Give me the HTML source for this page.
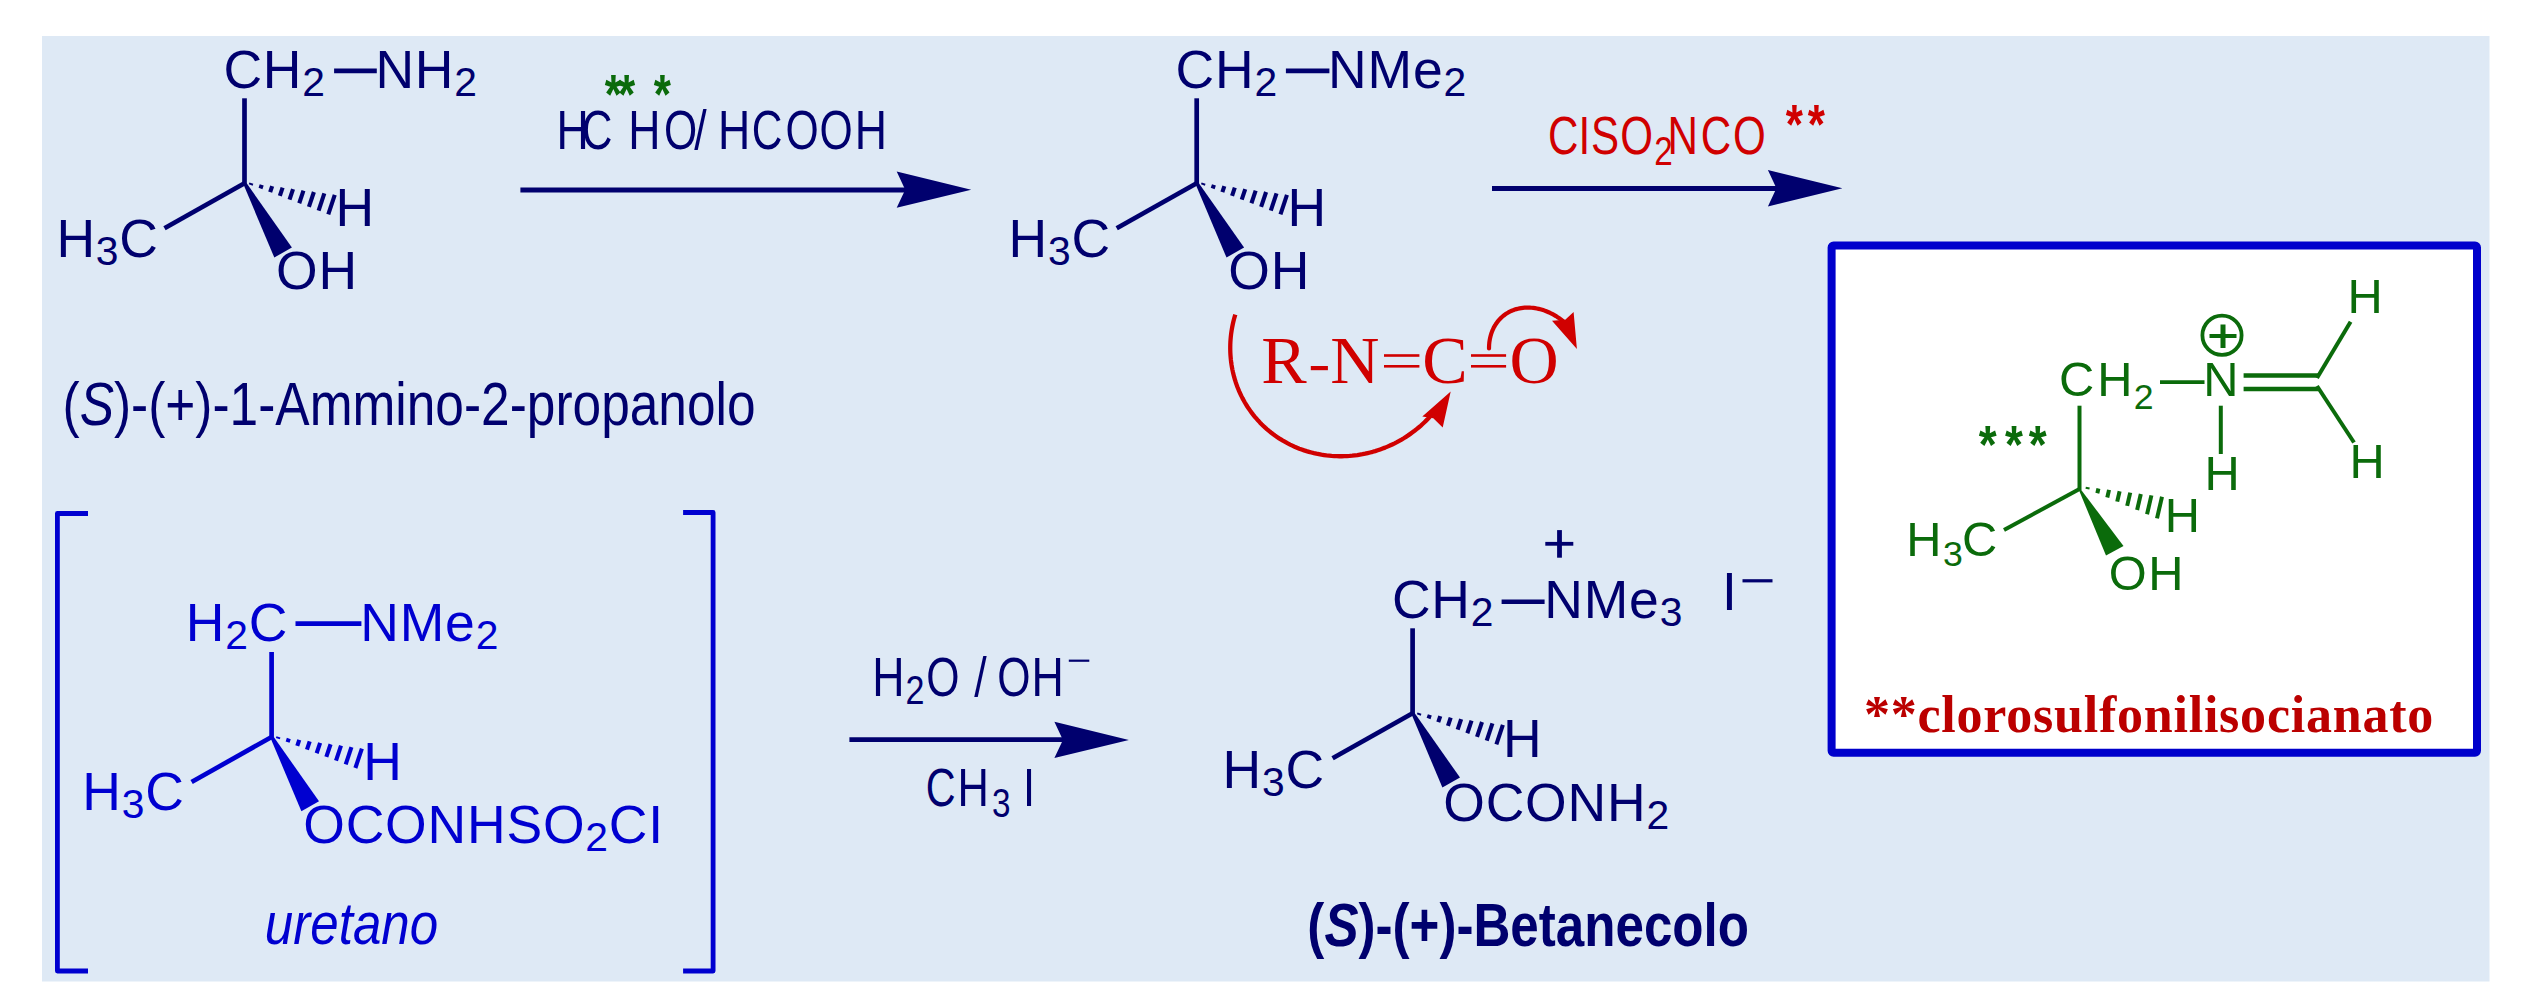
<!DOCTYPE html>
<html><head><meta charset="utf-8"><title>Betanecolo</title>
<style>
html,body{margin:0;padding:0;background:#ffffff;}
body{width:2528px;height:1000px;overflow:hidden;}
svg{display:block;}
</style></head>
<body>
<svg width="2528" height="1000" viewBox="0 0 2528 1000">
<rect x="42" y="36" width="2447.5" height="945.5" fill="#dee9f5"/>
<line x1="244.50" y1="184.30" x2="244.50" y2="98.30" stroke="#00006e" stroke-width="4.70" stroke-linecap="butt"/>
<line x1="244.50" y1="183.30" x2="164.50" y2="228.30" stroke="#00006e" stroke-width="4.70" stroke-linecap="butt"/>
<polygon points="243.00,183.30 246.70,183.30 291.90,247.60 274.30,257.50" fill="#00006e"/>
<line x1="251.36" y1="183.12" x2="250.73" y2="185.02" stroke="#00006e" stroke-width="4.10" stroke-linecap="butt"/>
<line x1="261.72" y1="184.78" x2="260.49" y2="188.49" stroke="#00006e" stroke-width="4.10" stroke-linecap="butt"/>
<line x1="272.16" y1="186.22" x2="270.17" y2="192.18" stroke="#00006e" stroke-width="4.10" stroke-linecap="butt"/>
<line x1="282.59" y1="187.66" x2="279.86" y2="195.87" stroke="#00006e" stroke-width="4.10" stroke-linecap="butt"/>
<line x1="293.03" y1="189.10" x2="289.54" y2="199.56" stroke="#00006e" stroke-width="4.10" stroke-linecap="butt"/>
<line x1="303.46" y1="190.54" x2="299.23" y2="203.25" stroke="#00006e" stroke-width="4.10" stroke-linecap="butt"/>
<line x1="313.90" y1="191.99" x2="308.91" y2="206.94" stroke="#00006e" stroke-width="4.10" stroke-linecap="butt"/>
<line x1="324.33" y1="193.43" x2="318.60" y2="210.63" stroke="#00006e" stroke-width="4.10" stroke-linecap="butt"/>
<line x1="334.76" y1="194.87" x2="328.28" y2="214.32" stroke="#00006e" stroke-width="4.10" stroke-linecap="butt"/>
<text transform="translate(223.38 88.10)" fill="#00006e" style="font-family:'Liberation Sans', sans-serif;font-size:53.50px;font-weight:normal;font-style:normal;letter-spacing:0.80px"><tspan>CH</tspan><tspan font-size="40.80" dy="8.00">2</tspan></text>
<line x1="334.10" y1="70.90" x2="376.80" y2="70.90" stroke="#00006e" stroke-width="4.70" stroke-linecap="butt"/>
<text transform="translate(375.41 88.10)" fill="#00006e" style="font-family:'Liberation Sans', sans-serif;font-size:53.50px;font-weight:normal;font-style:normal;letter-spacing:0.80px"><tspan>NH</tspan><tspan font-size="40.80" dy="8.00">2</tspan></text>
<text transform="translate(56.41 257.00)" fill="#00006e" style="font-family:'Liberation Sans', sans-serif;font-size:53.50px;font-weight:normal;font-style:normal;letter-spacing:0.80px"><tspan>H</tspan><tspan font-size="40.80" dy="8.00">3</tspan><tspan font-size="53.50" dy="-8.00">C</tspan></text>
<text transform="translate(335.41 225.60)" fill="#00006e" style="font-family:'Liberation Sans', sans-serif;font-size:53.50px;font-weight:normal;font-style:normal;letter-spacing:0.80px"><tspan>H</tspan></text>
<text transform="translate(276.07 289.40)" fill="#00006e" style="font-family:'Liberation Sans', sans-serif;font-size:53.50px;font-weight:normal;font-style:normal;letter-spacing:0.80px"><tspan>OH</tspan></text>
<text transform="translate(62.51 424.80) scale(0.8390 1)" fill="#00006e" style="font-family:'Liberation Sans', sans-serif;font-size:61.30px;font-weight:normal;font-style:normal"><tspan>(</tspan><tspan font-style="italic">S</tspan><tspan>)-(+)-1-Ammino-2-propanolo</tspan></text>
<line x1="520.40" y1="190.00" x2="906.00" y2="190.00" stroke="#00006e" stroke-width="5.20" stroke-linecap="butt"/>
<polygon points="896.70,171.50 971.20,189.70 896.70,207.80 905.20,189.70" fill="#00006e"/>
<text transform="translate(556.44 149.00) scale(0.8100 1)" fill="#00006e" style="font-family:'Liberation Sans', sans-serif;font-size:55.10px;font-weight:normal;font-style:normal"><tspan>H</tspan></text>
<text transform="translate(581.85 149.00) scale(0.7700 1)" fill="#00006e" style="font-family:'Liberation Sans', sans-serif;font-size:55.10px;font-weight:normal;font-style:normal"><tspan>C</tspan></text>
<text transform="translate(628.34 149.00) scale(0.8100 1)" fill="#00006e" style="font-family:'Liberation Sans', sans-serif;font-size:55.10px;font-weight:normal;font-style:normal"><tspan>H</tspan></text>
<text transform="translate(663.98 149.00) scale(0.7750 1)" fill="#00006e" style="font-family:'Liberation Sans', sans-serif;font-size:55.10px;font-weight:normal;font-style:normal"><tspan>O</tspan></text>
<text transform="translate(694.20 149.00) scale(0.8100 1)" fill="#00006e" style="font-family:'Liberation Sans', sans-serif;font-size:55.10px;font-weight:normal;font-style:normal"><tspan>/</tspan></text>
<text transform="translate(718.04 149.00) scale(0.8100 1)" fill="#00006e" style="font-family:'Liberation Sans', sans-serif;font-size:55.10px;font-weight:normal;font-style:normal"><tspan>H</tspan></text>
<text transform="translate(751.85 149.00) scale(0.7700 1)" fill="#00006e" style="font-family:'Liberation Sans', sans-serif;font-size:55.10px;font-weight:normal;font-style:normal"><tspan>C</tspan></text>
<text transform="translate(785.58 149.00) scale(0.7750 1)" fill="#00006e" style="font-family:'Liberation Sans', sans-serif;font-size:55.10px;font-weight:normal;font-style:normal"><tspan>O</tspan></text>
<text transform="translate(819.38 149.00) scale(0.7750 1)" fill="#00006e" style="font-family:'Liberation Sans', sans-serif;font-size:55.10px;font-weight:normal;font-style:normal"><tspan>O</tspan></text>
<text transform="translate(854.74 149.00) scale(0.8100 1)" fill="#00006e" style="font-family:'Liberation Sans', sans-serif;font-size:55.10px;font-weight:normal;font-style:normal"><tspan>H</tspan></text>
<text transform="translate(604.87 112.70) scale(0.8050 1)" fill="#0b6b0b" style="font-family:'Liberation Sans', sans-serif;font-size:54.80px;font-weight:bold;font-style:normal"><tspan>*</tspan></text>
<text transform="translate(618.07 112.70) scale(0.8050 1)" fill="#0b6b0b" style="font-family:'Liberation Sans', sans-serif;font-size:54.80px;font-weight:bold;font-style:normal"><tspan>*</tspan></text>
<text transform="translate(653.87 112.70) scale(0.8050 1)" fill="#0b6b0b" style="font-family:'Liberation Sans', sans-serif;font-size:54.80px;font-weight:bold;font-style:normal"><tspan>*</tspan></text>
<line x1="1196.70" y1="184.30" x2="1196.70" y2="98.30" stroke="#00006e" stroke-width="4.70" stroke-linecap="butt"/>
<line x1="1196.70" y1="183.30" x2="1116.70" y2="228.30" stroke="#00006e" stroke-width="4.70" stroke-linecap="butt"/>
<polygon points="1195.20,183.30 1198.90,183.30 1244.10,247.60 1226.50,257.50" fill="#00006e"/>
<line x1="1203.56" y1="183.12" x2="1202.93" y2="185.02" stroke="#00006e" stroke-width="4.10" stroke-linecap="butt"/>
<line x1="1213.92" y1="184.78" x2="1212.69" y2="188.49" stroke="#00006e" stroke-width="4.10" stroke-linecap="butt"/>
<line x1="1224.36" y1="186.22" x2="1222.37" y2="192.18" stroke="#00006e" stroke-width="4.10" stroke-linecap="butt"/>
<line x1="1234.79" y1="187.66" x2="1232.06" y2="195.87" stroke="#00006e" stroke-width="4.10" stroke-linecap="butt"/>
<line x1="1245.23" y1="189.10" x2="1241.74" y2="199.56" stroke="#00006e" stroke-width="4.10" stroke-linecap="butt"/>
<line x1="1255.66" y1="190.54" x2="1251.43" y2="203.25" stroke="#00006e" stroke-width="4.10" stroke-linecap="butt"/>
<line x1="1266.10" y1="191.99" x2="1261.11" y2="206.94" stroke="#00006e" stroke-width="4.10" stroke-linecap="butt"/>
<line x1="1276.53" y1="193.43" x2="1270.80" y2="210.63" stroke="#00006e" stroke-width="4.10" stroke-linecap="butt"/>
<line x1="1286.96" y1="194.87" x2="1280.48" y2="214.32" stroke="#00006e" stroke-width="4.10" stroke-linecap="butt"/>
<text transform="translate(1175.58 88.10)" fill="#00006e" style="font-family:'Liberation Sans', sans-serif;font-size:53.50px;font-weight:normal;font-style:normal;letter-spacing:0.80px"><tspan>CH</tspan><tspan font-size="40.80" dy="8.00">2</tspan></text>
<line x1="1285.90" y1="70.90" x2="1329.40" y2="70.90" stroke="#00006e" stroke-width="4.70" stroke-linecap="butt"/>
<text transform="translate(1328.11 88.10)" fill="#00006e" style="font-family:'Liberation Sans', sans-serif;font-size:53.50px;font-weight:normal;font-style:normal;letter-spacing:0.80px"><tspan>NMe</tspan><tspan font-size="40.80" dy="8.00">2</tspan></text>
<text transform="translate(1008.61 257.00)" fill="#00006e" style="font-family:'Liberation Sans', sans-serif;font-size:53.50px;font-weight:normal;font-style:normal;letter-spacing:0.80px"><tspan>H</tspan><tspan font-size="40.80" dy="8.00">3</tspan><tspan font-size="53.50" dy="-8.00">C</tspan></text>
<text transform="translate(1287.61 225.60)" fill="#00006e" style="font-family:'Liberation Sans', sans-serif;font-size:53.50px;font-weight:normal;font-style:normal;letter-spacing:0.80px"><tspan>H</tspan></text>
<text transform="translate(1228.27 289.40)" fill="#00006e" style="font-family:'Liberation Sans', sans-serif;font-size:53.50px;font-weight:normal;font-style:normal;letter-spacing:0.80px"><tspan>OH</tspan></text>
<line x1="1492.00" y1="188.50" x2="1777.00" y2="188.50" stroke="#00006e" stroke-width="4.90" stroke-linecap="butt"/>
<polygon points="1767.90,170.10 1842.40,188.30 1767.90,206.40 1776.40,188.30" fill="#00006e"/>
<text transform="translate(1548.06 153.90) scale(0.7900 1)" fill="#d00000" style="font-family:'Liberation Sans', sans-serif;font-size:53.30px;font-weight:normal;font-style:normal"><tspan>C</tspan></text>
<text transform="translate(1578.51 153.90) scale(0.7900 1)" fill="#d00000" style="font-family:'Liberation Sans', sans-serif;font-size:53.30px;font-weight:normal;font-style:normal"><tspan>I</tspan></text>
<text transform="translate(1591.09 153.90) scale(0.7900 1)" fill="#d00000" style="font-family:'Liberation Sans', sans-serif;font-size:53.30px;font-weight:normal;font-style:normal"><tspan>S</tspan></text>
<text transform="translate(1620.21 153.90) scale(0.7900 1)" fill="#d00000" style="font-family:'Liberation Sans', sans-serif;font-size:53.30px;font-weight:normal;font-style:normal"><tspan>O</tspan></text>
<text transform="translate(1667.45 153.90) scale(0.7900 1)" fill="#d00000" style="font-family:'Liberation Sans', sans-serif;font-size:53.30px;font-weight:normal;font-style:normal"><tspan>N</tspan></text>
<text transform="translate(1700.76 153.90) scale(0.7900 1)" fill="#d00000" style="font-family:'Liberation Sans', sans-serif;font-size:53.30px;font-weight:normal;font-style:normal"><tspan>C</tspan></text>
<text transform="translate(1733.01 153.90) scale(0.7900 1)" fill="#d00000" style="font-family:'Liberation Sans', sans-serif;font-size:53.30px;font-weight:normal;font-style:normal"><tspan>O</tspan></text>
<text transform="translate(1654.13 164.70) scale(0.8300 1)" fill="#d00000" style="font-family:'Liberation Sans', sans-serif;font-size:40.10px;font-weight:normal;font-style:normal"><tspan>2</tspan></text>
<text transform="translate(1785.67 142.70) scale(0.8050 1)" fill="#d00000" style="font-family:'Liberation Sans', sans-serif;font-size:54.80px;font-weight:bold;font-style:normal"><tspan>*</tspan></text>
<text transform="translate(1807.87 142.70) scale(0.8050 1)" fill="#d00000" style="font-family:'Liberation Sans', sans-serif;font-size:54.80px;font-weight:bold;font-style:normal"><tspan>*</tspan></text>
<text transform="translate(1261.14 383.40)" fill="#d00000" style="font-family:'Liberation Serif', serif;font-size:68.10px;font-weight:normal;font-style:normal"><tspan>R</tspan></text>
<text transform="translate(1330.14 383.40)" fill="#d00000" style="font-family:'Liberation Serif', serif;font-size:68.10px;font-weight:normal;font-style:normal"><tspan>N</tspan></text>
<text transform="translate(1422.31 383.40)" fill="#d00000" style="font-family:'Liberation Serif', serif;font-size:68.10px;font-weight:normal;font-style:normal"><tspan>C</tspan></text>
<text transform="translate(1509.61 383.40)" fill="#d00000" style="font-family:'Liberation Serif', serif;font-size:68.10px;font-weight:normal;font-style:normal"><tspan>O</tspan></text>
<rect x="1310.8" y="366" width="17.1" height="4.2" fill="#d00000"/>
<rect x="1384.0" y="354.2" width="35.4" height="2.6" fill="#d00000"/>
<rect x="1384.0" y="365.0" width="35.4" height="2.6" fill="#d00000"/>
<rect x="1471.0" y="354.2" width="35.1" height="2.6" fill="#d00000"/>
<rect x="1471.0" y="365.0" width="35.1" height="2.6" fill="#d00000"/>
<rect x="1831.6" y="245.6" width="645.4" height="507.2" rx="2" fill="#ffffff" stroke="#0000cc" stroke-width="8"/>
<path d="M1235.30,314.57 L1234.57,317.04 L1233.90,319.52 L1233.28,322.01 L1232.72,324.51 L1232.22,327.02 L1231.77,329.54 L1231.38,332.06 L1231.05,334.59 L1230.77,337.12 L1230.55,339.66 L1230.39,342.20 L1230.29,344.73 L1230.25,347.27 L1230.26,349.81 L1230.33,352.34 L1230.46,354.86 L1230.65,357.39 L1230.89,359.90 L1231.19,362.40 L1231.55,364.90 L1231.97,367.38 L1232.44,369.85 L1232.97,372.31 L1233.56,374.75 L1234.20,377.18 L1234.90,379.59 L1235.65,381.98 L1236.46,384.35 L1237.32,386.70 L1238.24,389.03 L1239.21,391.34 L1240.24,393.62 L1241.31,395.88 L1242.44,398.11 L1243.63,400.31 L1244.86,402.48 L1246.14,404.62 L1247.47,406.74 L1248.86,408.82 L1250.29,410.86 L1251.77,412.88 L1253.29,414.86 L1254.86,416.80 L1256.48,418.70 L1258.14,420.57 L1259.85,422.40 L1261.60,424.19 L1263.39,425.93 L1265.22,427.64 L1267.09,429.30 L1269.00,430.92 L1270.95,432.50 L1272.94,434.03 L1274.96,435.51 L1277.02,436.95 L1279.12,438.35 L1281.25,439.69 L1283.40,440.99 L1285.60,442.23 L1287.82,443.43 L1290.07,444.58 L1292.34,445.67 L1294.65,446.72 L1296.98,447.71 L1299.33,448.65 L1301.71,449.53 L1304.11,450.37 L1306.53,451.15 L1308.97,451.87 L1311.43,452.54 L1313.91,453.16 L1316.40,453.72 L1318.90,454.22 L1321.42,454.67 L1323.96,455.06 L1326.50,455.40 L1329.05,455.68 L1331.61,455.91 L1334.18,456.07 L1336.76,456.18 L1339.33,456.24 L1341.92,456.24 L1344.50,456.18 L1347.08,456.06 L1349.67,455.89 L1352.25,455.66 L1354.83,455.37 L1357.40,455.03 L1359.97,454.63 L1362.53,454.18 L1365.09,453.67 L1367.63,453.10 L1370.16,452.48 L1372.68,451.81 L1375.19,451.08 L1377.68,450.29 L1380.16,449.45 L1382.62,448.56 L1385.06,447.62 L1387.48,446.62 L1389.88,445.57 L1392.25,444.47 L1394.61,443.32 L1396.94,442.12 L1399.24,440.87 L1401.52,439.57 L1403.77,438.22 L1405.99,436.82 L1408.19,435.38 L1410.35,433.89 L1412.47,432.36 L1414.57,430.78 L1416.63,429.15 L1418.65,427.48 L1420.64,425.78 L1422.59,424.02 L1424.50,422.23 L1426.37,420.40 L1428.21,418.53 L1430.00,416.62" fill="none" stroke="#d00000" stroke-width="4.3" stroke-linecap="butt" stroke-linejoin="round"/>
<polygon points="1450.70,391.50 1422.30,416.60 1433.30,418.30 1442.70,427.60" fill="#d00000"/>
<path d="M1489.01,348.50 L1489.04,346.69 L1489.12,344.89 L1489.28,343.11 L1489.49,341.35 L1489.77,339.61 L1490.11,337.90 L1490.51,336.22 L1490.98,334.57 L1491.50,332.95 L1492.09,331.36 L1492.73,329.81 L1493.44,328.30 L1494.20,326.83 L1495.02,325.41 L1495.89,324.02 L1496.82,322.69 L1497.81,321.39 L1498.84,320.15 L1499.93,318.96 L1501.06,317.82 L1502.25,316.74 L1503.48,315.71 L1504.75,314.74 L1506.07,313.82 L1507.43,312.97 L1508.83,312.17 L1510.27,311.43 L1511.74,310.76 L1513.25,310.15 L1514.79,309.60 L1516.36,309.12 L1517.97,308.70 L1519.59,308.35 L1521.24,308.06 L1522.92,307.84 L1524.61,307.69 L1526.32,307.60 L1528.05,307.58 L1529.79,307.62 L1531.54,307.74 L1533.30,307.92 L1535.07,308.16 L1536.84,308.47 L1538.62,308.85 L1540.39,309.30 L1542.17,309.80 L1543.93,310.37 L1545.69,311.01 L1547.45,311.71 L1549.19,312.47 L1550.91,313.29 L1552.63,314.16 L1554.32,315.10 L1555.99,316.10 L1557.64,317.15 L1559.27,318.25 L1560.87,319.41 L1562.44,320.62 L1563.99,321.88 L1565.49,323.19" fill="none" stroke="#d00000" stroke-width="4.2" stroke-linecap="round" stroke-linejoin="round"/>
<polygon points="1576.90,348.90 1552.00,320.70 1565.20,319.80 1573.60,312.00" fill="#d00000"/>
<line x1="2079.50" y1="405.70" x2="2079.50" y2="490.00" stroke="#0b6b0b" stroke-width="4.00" stroke-linecap="butt"/>
<line x1="2079.50" y1="489.00" x2="2004.00" y2="530.00" stroke="#0b6b0b" stroke-width="4.00" stroke-linecap="butt"/>
<polygon points="2078.50,489.00 2080.50,489.00 2123.50,546.00 2106.00,555.50" fill="#0b6b0b"/>
<line x1="2087.84" y1="487.14" x2="2087.39" y2="489.10" stroke="#0b6b0b" stroke-width="4.00" stroke-linecap="butt"/>
<line x1="2098.43" y1="488.51" x2="2097.33" y2="493.28" stroke="#0b6b0b" stroke-width="4.00" stroke-linecap="butt"/>
<line x1="2109.03" y1="489.88" x2="2107.28" y2="497.47" stroke="#0b6b0b" stroke-width="4.00" stroke-linecap="butt"/>
<line x1="2119.62" y1="491.24" x2="2117.22" y2="501.66" stroke="#0b6b0b" stroke-width="4.00" stroke-linecap="butt"/>
<line x1="2130.22" y1="492.60" x2="2127.16" y2="505.84" stroke="#0b6b0b" stroke-width="4.00" stroke-linecap="butt"/>
<line x1="2140.81" y1="493.97" x2="2137.11" y2="510.03" stroke="#0b6b0b" stroke-width="4.00" stroke-linecap="butt"/>
<line x1="2151.41" y1="495.33" x2="2147.05" y2="514.21" stroke="#0b6b0b" stroke-width="4.00" stroke-linecap="butt"/>
<line x1="2162.00" y1="496.70" x2="2157.00" y2="518.40" stroke="#0b6b0b" stroke-width="4.00" stroke-linecap="butt"/>
<text transform="translate(2059.02 396.20)" fill="#0b6b0b" style="font-family:'Liberation Sans', sans-serif;font-size:48.80px;font-weight:normal;font-style:normal"><tspan>C</tspan></text>
<text transform="translate(2097.30 396.20)" fill="#0b6b0b" style="font-family:'Liberation Sans', sans-serif;font-size:48.80px;font-weight:normal;font-style:normal"><tspan>H</tspan></text>
<text transform="translate(2203.30 396.20)" fill="#0b6b0b" style="font-family:'Liberation Sans', sans-serif;font-size:48.80px;font-weight:normal;font-style:normal"><tspan>N</tspan></text>
<text transform="translate(2204.50 490.30)" fill="#0b6b0b" style="font-family:'Liberation Sans', sans-serif;font-size:48.80px;font-weight:normal;font-style:normal"><tspan>H</tspan></text>
<text transform="translate(2347.50 313.30)" fill="#0b6b0b" style="font-family:'Liberation Sans', sans-serif;font-size:48.80px;font-weight:normal;font-style:normal"><tspan>H</tspan></text>
<text transform="translate(2349.40 477.70)" fill="#0b6b0b" style="font-family:'Liberation Sans', sans-serif;font-size:48.80px;font-weight:normal;font-style:normal"><tspan>H</tspan></text>
<text transform="translate(1906.30 556.00)" fill="#0b6b0b" style="font-family:'Liberation Sans', sans-serif;font-size:48.80px;font-weight:normal;font-style:normal"><tspan>H</tspan></text>
<text transform="translate(1962.02 556.00)" fill="#0b6b0b" style="font-family:'Liberation Sans', sans-serif;font-size:48.80px;font-weight:normal;font-style:normal"><tspan>C</tspan></text>
<text transform="translate(2164.70 531.90)" fill="#0b6b0b" style="font-family:'Liberation Sans', sans-serif;font-size:48.80px;font-weight:normal;font-style:normal"><tspan>H</tspan></text>
<text transform="translate(2108.69 590.00)" fill="#0b6b0b" style="font-family:'Liberation Sans', sans-serif;font-size:48.80px;font-weight:normal;font-style:normal"><tspan>O</tspan></text>
<text transform="translate(2148.20 589.60)" fill="#0b6b0b" style="font-family:'Liberation Sans', sans-serif;font-size:48.80px;font-weight:normal;font-style:normal"><tspan>H</tspan></text>
<text transform="translate(2133.70 409.00)" fill="#0b6b0b" style="font-family:'Liberation Sans', sans-serif;font-size:35.70px;font-weight:normal;font-style:normal"><tspan>2</tspan></text>
<text transform="translate(1943.04 566.10)" fill="#0b6b0b" style="font-family:'Liberation Sans', sans-serif;font-size:35.70px;font-weight:normal;font-style:normal"><tspan>3</tspan></text>
<line x1="2160.00" y1="382.20" x2="2204.50" y2="382.20" stroke="#0b6b0b" stroke-width="3.80" stroke-linecap="butt"/>
<circle cx="2222" cy="335.3" r="19.6" fill="none" stroke="#0b6b0b" stroke-width="3.8"/>
<rect x="2209.5" y="334" width="27" height="4" fill="#0b6b0b"/>
<rect x="2220.5" y="324.5" width="5" height="23.5" fill="#0b6b0b"/>
<line x1="2220.80" y1="405.70" x2="2220.80" y2="454.00" stroke="#0b6b0b" stroke-width="4.00" stroke-linecap="butt"/>
<line x1="2243.60" y1="375.50" x2="2318.40" y2="375.50" stroke="#0b6b0b" stroke-width="4.60" stroke-linecap="butt"/>
<line x1="2243.60" y1="389.00" x2="2318.40" y2="389.00" stroke="#0b6b0b" stroke-width="4.60" stroke-linecap="butt"/>
<line x1="2317.00" y1="378.00" x2="2350.60" y2="321.80" stroke="#0b6b0b" stroke-width="4.00" stroke-linecap="butt"/>
<line x1="2317.00" y1="386.00" x2="2354.00" y2="442.50" stroke="#0b6b0b" stroke-width="4.00" stroke-linecap="butt"/>
<text transform="translate(1978.67 462.50) scale(0.8600 1)" fill="#0b6b0b" style="font-family:'Liberation Sans', sans-serif;font-size:53.50px;font-weight:bold;font-style:normal"><tspan>*</tspan></text>
<text transform="translate(2005.07 462.50) scale(0.8600 1)" fill="#0b6b0b" style="font-family:'Liberation Sans', sans-serif;font-size:53.50px;font-weight:bold;font-style:normal"><tspan>*</tspan></text>
<text transform="translate(2028.87 462.50) scale(0.8600 1)" fill="#0b6b0b" style="font-family:'Liberation Sans', sans-serif;font-size:53.50px;font-weight:bold;font-style:normal"><tspan>*</tspan></text>
<text transform="translate(1863.94 731.70)" fill="#bb0000" style="font-family:'Liberation Serif', serif;font-size:52.00px;font-weight:bold;font-style:normal;letter-spacing:0.77px"><tspan>**clorosulfonilisocianato</tspan></text>
<polyline points="88.0,513.5 57.4,513.5 57.4,971.0 88.0,971.0" fill="none" stroke="#0000d0" stroke-width="4.8" stroke-linejoin="round"/>
<polyline points="683.1,512.5 713.1,512.5 713.1,971.0 683.1,971.0" fill="none" stroke="#0000d0" stroke-width="4.8" stroke-linejoin="round"/>
<line x1="271.60" y1="738.00" x2="271.60" y2="652.00" stroke="#0000d0" stroke-width="4.70" stroke-linecap="butt"/>
<line x1="271.60" y1="737.00" x2="191.60" y2="782.00" stroke="#0000d0" stroke-width="4.70" stroke-linecap="butt"/>
<polygon points="270.10,737.00 273.80,737.00 319.00,801.30 301.40,811.20" fill="#0000d0"/>
<line x1="278.46" y1="736.82" x2="277.83" y2="738.72" stroke="#0000d0" stroke-width="4.10" stroke-linecap="butt"/>
<line x1="288.82" y1="738.48" x2="287.59" y2="742.19" stroke="#0000d0" stroke-width="4.10" stroke-linecap="butt"/>
<line x1="299.26" y1="739.92" x2="297.27" y2="745.88" stroke="#0000d0" stroke-width="4.10" stroke-linecap="butt"/>
<line x1="309.69" y1="741.36" x2="306.96" y2="749.57" stroke="#0000d0" stroke-width="4.10" stroke-linecap="butt"/>
<line x1="320.13" y1="742.80" x2="316.64" y2="753.26" stroke="#0000d0" stroke-width="4.10" stroke-linecap="butt"/>
<line x1="330.56" y1="744.24" x2="326.33" y2="756.95" stroke="#0000d0" stroke-width="4.10" stroke-linecap="butt"/>
<line x1="341.00" y1="745.69" x2="336.01" y2="760.64" stroke="#0000d0" stroke-width="4.10" stroke-linecap="butt"/>
<line x1="351.43" y1="747.13" x2="345.70" y2="764.33" stroke="#0000d0" stroke-width="4.10" stroke-linecap="butt"/>
<line x1="361.86" y1="748.57" x2="355.38" y2="768.02" stroke="#0000d0" stroke-width="4.10" stroke-linecap="butt"/>
<text transform="translate(185.71 640.80)" fill="#0000d0" style="font-family:'Liberation Sans', sans-serif;font-size:53.50px;font-weight:normal;font-style:normal;letter-spacing:0.80px"><tspan>H</tspan><tspan font-size="40.80" dy="8.00">2</tspan><tspan font-size="53.50" dy="-8.00">C</tspan></text>
<line x1="295.50" y1="623.60" x2="361.40" y2="623.60" stroke="#0000d0" stroke-width="4.60" stroke-linecap="butt"/>
<text transform="translate(360.31 641.00)" fill="#0000d0" style="font-family:'Liberation Sans', sans-serif;font-size:53.50px;font-weight:normal;font-style:normal;letter-spacing:0.80px"><tspan>NMe</tspan><tspan font-size="40.80" dy="8.00">2</tspan></text>
<text transform="translate(82.31 809.90)" fill="#0000d0" style="font-family:'Liberation Sans', sans-serif;font-size:53.50px;font-weight:normal;font-style:normal;letter-spacing:0.80px"><tspan>H</tspan><tspan font-size="40.80" dy="8.00">3</tspan><tspan font-size="53.50" dy="-8.00">C</tspan></text>
<text transform="translate(363.31 780.20)" fill="#0000d0" style="font-family:'Liberation Sans', sans-serif;font-size:53.50px;font-weight:normal;font-style:normal;letter-spacing:0.80px"><tspan>H</tspan></text>
<text transform="translate(303.27 842.80)" fill="#0000d0" style="font-family:'Liberation Sans', sans-serif;font-size:53.50px;font-weight:normal;font-style:normal;letter-spacing:0.80px"><tspan>OCONHSO</tspan><tspan font-size="40.80" dy="8.00">2</tspan><tspan font-size="53.50" dy="-8.00">CI</tspan></text>
<text transform="translate(264.85 944.20) scale(0.8520 1)" fill="#0000d0" style="font-family:'Liberation Sans', sans-serif;font-size:60.00px;font-weight:normal;font-style:italic"><tspan>uretano</tspan></text>
<line x1="849.40" y1="739.60" x2="1066.00" y2="739.60" stroke="#00006e" stroke-width="4.90" stroke-linecap="butt"/>
<polygon points="1054.40,721.70 1128.90,739.90 1054.40,758.00 1062.90,739.90" fill="#00006e"/>
<text transform="translate(872.23 696.00) scale(0.8100 1)" fill="#00006e" style="font-family:'Liberation Sans', sans-serif;font-size:55.20px;font-weight:normal;font-style:normal"><tspan>H</tspan></text>
<text transform="translate(926.17 696.00) scale(0.7750 1)" fill="#00006e" style="font-family:'Liberation Sans', sans-serif;font-size:55.20px;font-weight:normal;font-style:normal"><tspan>O</tspan></text>
<text transform="translate(974.20 696.00) scale(0.8100 1)" fill="#00006e" style="font-family:'Liberation Sans', sans-serif;font-size:55.20px;font-weight:normal;font-style:normal"><tspan>/</tspan></text>
<text transform="translate(997.17 696.00) scale(0.7750 1)" fill="#00006e" style="font-family:'Liberation Sans', sans-serif;font-size:55.20px;font-weight:normal;font-style:normal"><tspan>O</tspan></text>
<text transform="translate(1031.53 696.00) scale(0.8100 1)" fill="#00006e" style="font-family:'Liberation Sans', sans-serif;font-size:55.20px;font-weight:normal;font-style:normal"><tspan>H</tspan></text>
<text transform="translate(905.58 703.70) scale(0.8300 1)" fill="#00006e" style="font-family:'Liberation Sans', sans-serif;font-size:41.10px;font-weight:normal;font-style:normal"><tspan>2</tspan></text>
<rect x="1068.8" y="659.6" width="20.5" height="2.2" fill="#00006e"/>
<text transform="translate(925.70 806.00) scale(0.7700 1)" fill="#00006e" style="font-family:'Liberation Sans', sans-serif;font-size:53.60px;font-weight:normal;font-style:normal"><tspan>C</tspan></text>
<text transform="translate(957.54 806.00) scale(0.8100 1)" fill="#00006e" style="font-family:'Liberation Sans', sans-serif;font-size:53.60px;font-weight:normal;font-style:normal"><tspan>H</tspan></text>
<text transform="translate(1023.09 806.00) scale(0.8100 1)" fill="#00006e" style="font-family:'Liberation Sans', sans-serif;font-size:53.60px;font-weight:normal;font-style:normal"><tspan>I</tspan></text>
<text transform="translate(991.93 816.50) scale(0.8100 1)" fill="#00006e" style="font-family:'Liberation Sans', sans-serif;font-size:41.10px;font-weight:normal;font-style:normal"><tspan>3</tspan></text>
<line x1="1412.60" y1="714.30" x2="1412.60" y2="628.30" stroke="#00006e" stroke-width="4.70" stroke-linecap="butt"/>
<line x1="1412.60" y1="713.30" x2="1332.60" y2="758.30" stroke="#00006e" stroke-width="4.70" stroke-linecap="butt"/>
<polygon points="1411.10,713.30 1414.80,713.30 1460.00,777.60 1442.40,787.50" fill="#00006e"/>
<line x1="1419.46" y1="713.12" x2="1418.83" y2="715.02" stroke="#00006e" stroke-width="4.10" stroke-linecap="butt"/>
<line x1="1429.82" y1="714.78" x2="1428.59" y2="718.49" stroke="#00006e" stroke-width="4.10" stroke-linecap="butt"/>
<line x1="1440.26" y1="716.22" x2="1438.27" y2="722.18" stroke="#00006e" stroke-width="4.10" stroke-linecap="butt"/>
<line x1="1450.69" y1="717.66" x2="1447.96" y2="725.87" stroke="#00006e" stroke-width="4.10" stroke-linecap="butt"/>
<line x1="1461.13" y1="719.10" x2="1457.64" y2="729.56" stroke="#00006e" stroke-width="4.10" stroke-linecap="butt"/>
<line x1="1471.56" y1="720.54" x2="1467.33" y2="733.25" stroke="#00006e" stroke-width="4.10" stroke-linecap="butt"/>
<line x1="1482.00" y1="721.99" x2="1477.01" y2="736.94" stroke="#00006e" stroke-width="4.10" stroke-linecap="butt"/>
<line x1="1492.43" y1="723.43" x2="1486.70" y2="740.63" stroke="#00006e" stroke-width="4.10" stroke-linecap="butt"/>
<line x1="1502.86" y1="724.87" x2="1496.38" y2="744.32" stroke="#00006e" stroke-width="4.10" stroke-linecap="butt"/>
<text transform="translate(1391.88 617.80)" fill="#00006e" style="font-family:'Liberation Sans', sans-serif;font-size:53.50px;font-weight:normal;font-style:normal;letter-spacing:0.80px"><tspan>CH</tspan><tspan font-size="40.80" dy="8.00">2</tspan></text>
<line x1="1501.60" y1="601.80" x2="1544.60" y2="601.80" stroke="#00006e" stroke-width="4.60" stroke-linecap="butt"/>
<text transform="translate(1544.31 617.80)" fill="#00006e" style="font-family:'Liberation Sans', sans-serif;font-size:53.50px;font-weight:normal;font-style:normal;letter-spacing:0.80px"><tspan>NMe</tspan><tspan font-size="40.80" dy="8.00">3</tspan></text>
<rect x="1557.1" y="530.1" width="4.8" height="27.6" fill="#00006e"/>
<rect x="1545.3" y="541.9" width="28" height="3.8" fill="#00006e"/>
<text transform="translate(1722.06 609.50)" fill="#00006e" style="font-family:'Liberation Sans', sans-serif;font-size:53.50px;font-weight:normal;font-style:normal;letter-spacing:0.80px"><tspan>I</tspan></text>
<rect x="1742.5" y="579.2" width="30" height="3.2" fill="#00006e"/>
<text transform="translate(1222.61 787.80)" fill="#00006e" style="font-family:'Liberation Sans', sans-serif;font-size:53.50px;font-weight:normal;font-style:normal;letter-spacing:0.80px"><tspan>H</tspan><tspan font-size="40.80" dy="8.00">3</tspan><tspan font-size="53.50" dy="-8.00">C</tspan></text>
<text transform="translate(1503.01 757.10)" fill="#00006e" style="font-family:'Liberation Sans', sans-serif;font-size:53.50px;font-weight:normal;font-style:normal;letter-spacing:0.80px"><tspan>H</tspan></text>
<text transform="translate(1443.27 820.60)" fill="#00006e" style="font-family:'Liberation Sans', sans-serif;font-size:53.50px;font-weight:normal;font-style:normal;letter-spacing:0.80px"><tspan>OCONH</tspan><tspan font-size="40.80" dy="8.00">2</tspan></text>
<text transform="translate(1307.35 946.10) scale(0.8450 1)" fill="#00006e" style="font-family:'Liberation Sans', sans-serif;font-size:60.50px;font-weight:bold;font-style:normal"><tspan>(</tspan><tspan font-style="italic">S</tspan><tspan>)-(+)-Betanecolo</tspan></text>
</svg>
</body></html>
